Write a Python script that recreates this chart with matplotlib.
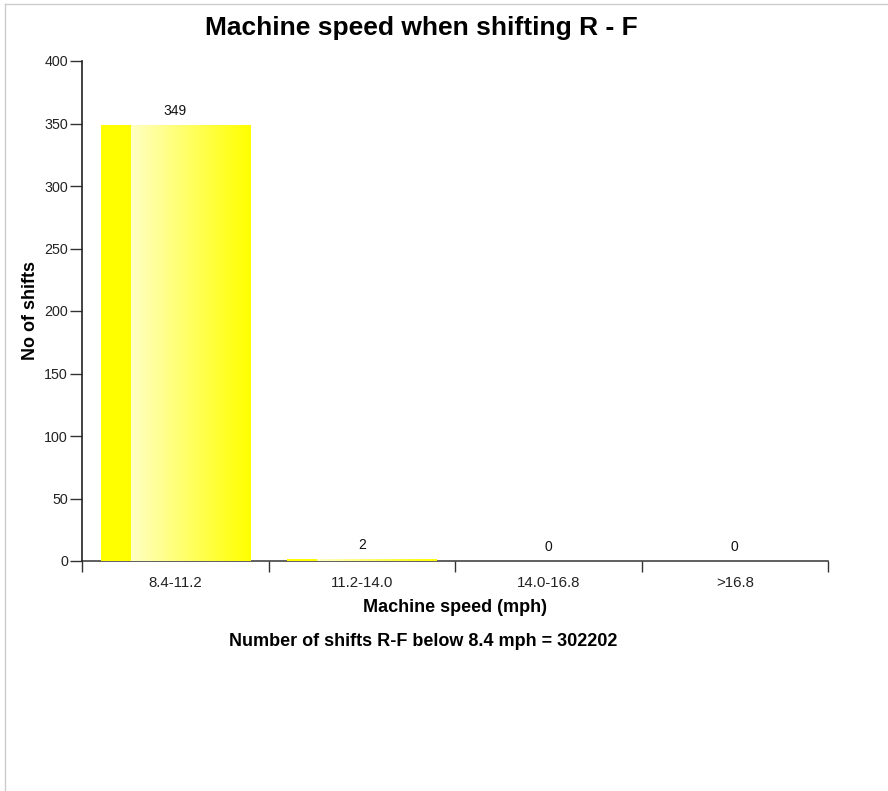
import numpy as np
import matplotlib
matplotlib.use("Agg")
import matplotlib.pyplot as plt
from matplotlib.lines import Line2D
from matplotlib.colors import LinearSegmentedColormap

plt.rcParams['font.family'] = ['Liberation Sans', 'DejaVu Sans']

# data
categories = ['8.4-11.2', '11.2-14.0', '14.0-16.8', '>16.8']
shifts = [349, 2, 0, 0]
below_count = 302202


def main():
    fig = plt.figure(figsize=(8.88, 7.91), dpi=100)
    ax = fig.add_axes([82 / 888, 1 - 561 / 791, (828 - 82) / 888, (561 - 61) / 791])

    x = np.arange(len(categories))
    bars = ax.bar(x, shifts, width=0.8, color='none', edgecolor='none')

    # yellow gradient: solid strip on the left, then light -> yellow
    cmap = LinearSegmentedColormap.from_list(
        'ylw', [(0.0, '#ffff00'), (0.199, '#ffff00'), (0.2, '#ffffc4'),
                (0.85, '#ffff22'), (1.0, '#ffff00')])
    grad = np.tile(np.linspace(0, 1, 256), (8, 1))
    for b in bars:
        if b.get_height() <= 0:
            continue
        x0, y0 = b.get_x(), b.get_y()
        im = ax.imshow(grad, cmap=cmap, aspect='auto', interpolation='nearest',
                       extent=[x0, x0 + b.get_width(), y0, y0 + b.get_height()],
                       zorder=3)
        im.set_clip_path(b)

    for xi, v in zip(x, shifts):
        ax.annotate(str(v), (xi, v), xytext=(0, 10), textcoords='offset points',
                    ha='center', va='center', fontsize=10, color='#111111')

    ax.set_xlim(-0.5, len(categories) - 0.5)
    ax.set_ylim(0, 400)
    ax.set_yticks(np.arange(0, 401, 50))
    ax.set_xticks(x)
    ax.set_xticklabels(categories)
    ax.set_xticks(np.arange(-0.5, len(categories), 1.0), minor=True)
    ax.tick_params(axis='x', which='major', length=0, pad=11, labelsize=10.8,
                   labelcolor='#222222')
    ax.tick_params(axis='x', which='minor', length=8, width=1, color='#333333',
                   direction='out')
    ax.tick_params(axis='y', length=9, width=1, color='#333333', pad=1,
                   labelsize=10.3, labelcolor='#222222')

    for s in ['top', 'right']:
        ax.spines[s].set_visible(False)
    ax.spines['left'].set_color('#222222')
    ax.spines['bottom'].set_color('#444444')
    ax.spines['left'].set_linewidth(1.2)
    ax.spines['bottom'].set_linewidth(1.2)
    ax.spines['bottom'].set_zorder(1)

    ax.set_ylabel('No of shifts', fontsize=13, fontweight='bold', labelpad=4)
    ax.set_xlabel('Machine speed (mph)', fontsize=13, fontweight='bold', labelpad=6)

    fig.text(421 / 888, 1 - 28 / 791, 'Machine speed when shifting R - F',
             ha='center', va='center', fontsize=19, fontweight='bold')
    fig.text(423 / 888, 1 - 641 / 791,
             'Number of shifts R-F below 8.4 mph = ' + str(below_count),
             ha='center', va='center', fontsize=13, fontweight='bold')

    # light frame on top and left edges
    fig.add_artist(Line2D([5 / 888, 1], [1 - 4 / 791, 1 - 4 / 791],
                          transform=fig.transFigure, color='#cccccc', lw=1))
    fig.add_artist(Line2D([5 / 888, 5 / 888], [0, 1 - 4 / 791],
                          transform=fig.transFigure, color='#cccccc', lw=1))

    fig.savefig('out.png', dpi=100)


if __name__ == "__main__":
    main()
